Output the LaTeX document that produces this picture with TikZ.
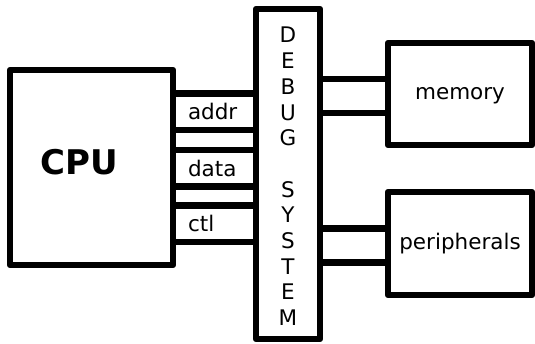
\documentclass[tikz,border=0pt]{standalone}
\usepackage{fontspec}
\setmainfont{DejaVu Sans}
\usetikzlibrary{calc}

\begin{document}
\begin{tikzpicture}
		[x=1pt,y=-1pt,line join=round,
		%Styles
		block/.style={draw,line width=6.5pt,inner sep=0pt,outer sep=0pt},
		link/.style={line width=6.5pt},
		label text/.style={font=\fontsize{21.5pt}{25.7pt}\selectfont},
		bus label/.style={label text,anchor=west,inner sep=0pt,outer sep=0pt,minimum height=36.5pt},
		box label/.style={label text,text height=11.7pt,text depth=0pt}
		]
		\useasboundingbox (0,0) rectangle (535,343);
		
		%The blocks
		\node[block,minimum width=163pt,minimum height=195pt] (cpu) at (91.5,167.5) {};
		\node[block,minimum width=64pt,minimum height=330pt] (dbg) at (288,174) {};
		\node[block,box label,minimum width=144pt,minimum height=102pt] (mem) at (460,94) {memory};
		\node[block,box label,minimum width=144pt,minimum height=103pt] (per) at (460,243.5) {peripherals};
		
		\node[font=\fontsize{34pt}{40pt}\selectfont\bfseries] (cpulbl) at (79,162.5) {CPU};
		\node[label text,align=center,inner sep=0pt] (dbglbl) at ($(dbg.center)+(0,2.5)$)
			{D\\E\\B\\U\\G\\\mbox{}\\S\\Y\\S\\T\\E\\M};
		
		%The buses
		\node[bus label] (addr) at (188,111.5) {addr};
		\node[bus label] (data) at (188,168) {data};
		\node[bus label] (ctl) at (188,223.5) {ctl};
		
		\foreach \b in {addr,data,ctl}
			\draw[link] (cpu.east |- \b.north) -- (dbg.west |- \b.north)
				(cpu.east |- \b.south) -- (dbg.west |- \b.south);
		
		\foreach \n in {mem,per}
			\foreach \dy in {-15,19}
				\draw[link] ($(dbg.east |- \n.west)+(0,\dy)$) -- ($(\n.west)+(0,\dy)$);
	\end{tikzpicture}
\end{document}
